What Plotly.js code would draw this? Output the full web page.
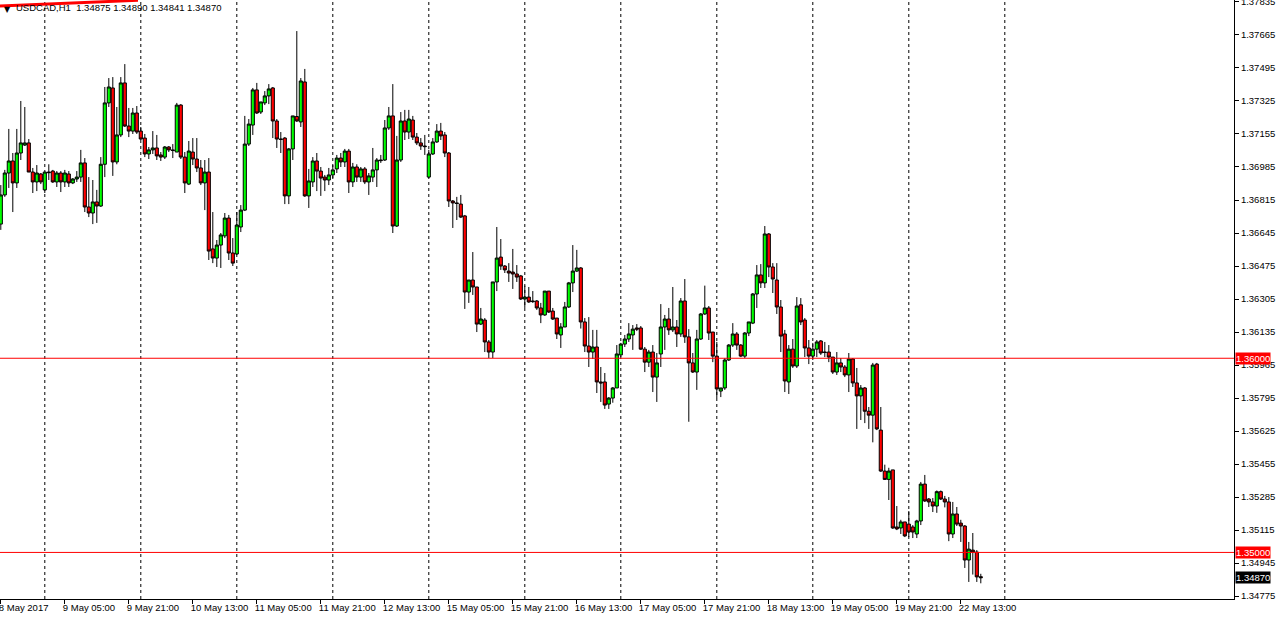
<!DOCTYPE html>
<html><head><meta charset="utf-8">
<script src="https://cdn.plot.ly/plotly-3.0.1.min.js"></script>
<style>html,body{margin:0;padding:0;background:#fff;overflow:hidden}#chart{width:1278px;height:620px}</style>
</head><body><div id="chart"></div>
<script>
const symbol = 'USDCAD,H1';
const firstHour = 13; // first bar: 8 May 2017 13:00, hourly bars

const open = [
1.36691,1.36841,1.36954,1.37016,1.36903,1.37057,1.37098,1.37109,1.36959,1.36908,
1.36949,1.36867,1.36959,1.36964,1.36908,1.36954,1.36908,1.36949,1.36903,1.36923,
1.36933,1.37006,1.36779,1.36748,1.36805,1.36784,1.36999,1.37315,1.37392,1.37011,
1.37150,1.37418,1.37196,1.37170,1.37263,1.37170,1.37134,1.37052,1.37073,1.37083,
1.37047,1.37036,1.37088,1.37073,1.37062,1.37304,1.37036,1.36897,1.37062,1.37026,
1.36980,1.36903,1.36959,1.36563,1.36516,1.36583,1.36630,1.36722,1.36542,1.36537,
1.36676,1.36763,1.37103,1.37201,1.37382,1.37268,1.37315,1.37351,1.37392,1.37222,
1.37129,1.37134,1.36836,1.37078,1.37245,1.37217,1.37423,1.36836,1.36908,1.37016,
1.36964,1.36933,1.36918,1.36944,1.36975,1.37031,1.37011,1.37067,1.36908,1.36985,
1.36933,1.36975,1.36908,1.36933,1.36970,1.37021,1.37021,1.37186,1.37248,1.36681,
1.37021,1.37222,1.37165,1.37227,1.37139,1.37109,1.37093,1.36933,1.37052,1.37114,
1.37170,1.37150,1.37057,1.36810,1.36800,1.36794,1.36733,1.36341,1.36403,1.36367,
1.36176,1.36197,1.36084,1.36032,1.36393,1.36521,1.36475,1.36449,1.36444,1.36434,
1.36424,1.36305,1.36315,1.36295,1.36295,1.36259,1.36223,1.36346,1.36243,1.36207,
1.36120,1.36161,1.36264,1.36388,1.36449,1.36465,1.36187,1.36063,1.36032,1.36058,
1.35878,1.35878,1.35764,1.35795,1.35847,1.36017,1.36073,1.36099,1.36120,1.36156,
1.36156,1.36047,1.35980,1.36032,1.35903,1.36022,1.36161,1.36202,1.36146,1.36161,
1.36125,1.36295,1.36110,1.35976,1.35929,1.36099,1.36228,1.36259,1.36135,1.36011,
1.35831,1.35847,1.35991,1.36068,1.36125,1.36068,1.36011,1.36130,1.36181,1.36331,
1.36429,1.36388,1.36640,1.36470,1.36403,1.36264,1.36125,1.35878,1.36047,1.35960,
1.36275,1.36197,1.36053,1.36011,1.36047,1.36089,1.36032,1.36032,1.36006,1.35929,
1.35976,1.35955,1.35914,1.35996,1.35873,1.35806,1.35847,1.35727,1.35707,1.35970,
1.35630,1.35419,1.35376,1.35425,1.35131,1.35126,1.35157,1.35146,1.35131,1.35095,
1.35162,1.35352,1.35275,1.35260,1.35239,1.35313,1.35275,1.35260,1.35095,1.35198,
1.35151,1.35136,1.34961,1.35012,1.35002,1.34875
];
const high = [
1.36892,1.36970,1.37181,1.37057,1.37181,1.37325,1.37294,1.37129,1.36980,1.36995,
1.36954,1.36959,1.36999,1.36970,1.36964,1.36964,1.36970,1.36964,1.36928,1.36964,
1.37073,1.37031,1.36933,1.36918,1.36867,1.37036,1.37397,1.37443,1.37448,1.37294,
1.37448,1.37515,1.37289,1.37289,1.37299,1.37191,1.37155,1.37088,1.37170,1.37150,
1.37062,1.37093,1.37093,1.37103,1.37315,1.37309,1.37062,1.37119,1.37134,1.37134,
1.37021,1.37021,1.37031,1.36753,1.36609,1.36645,1.36748,1.36738,1.36619,1.36753,
1.36789,1.37248,1.37232,1.37392,1.37418,1.37320,1.37376,1.37412,1.37397,1.37232,
1.37165,1.37139,1.37083,1.37248,1.37685,1.37443,1.37490,1.36975,1.37036,1.37057,
1.36985,1.36944,1.36980,1.36995,1.37047,1.37057,1.37078,1.37078,1.37006,1.36999,
1.36985,1.36985,1.36954,1.37083,1.37031,1.37047,1.37227,1.37294,1.37412,1.37145,
1.37268,1.37279,1.37279,1.37248,1.37160,1.37134,1.37150,1.37073,1.37134,1.37206,
1.37212,1.37165,1.37062,1.36815,1.36831,1.36841,1.36738,1.36403,1.36547,1.36367,
1.36259,1.36207,1.36094,1.36393,1.36676,1.36614,1.36480,1.36490,1.36563,1.36480,
1.36429,1.36374,1.36367,1.36346,1.36300,1.36285,1.36346,1.36346,1.36259,1.36207,
1.36181,1.36290,1.36393,1.36583,1.36558,1.36470,1.36207,1.36212,1.36146,1.36146,
1.35955,1.35924,1.35800,1.35852,1.36068,1.36079,1.36120,1.36181,1.36171,1.36176,
1.36166,1.36058,1.36043,1.36068,1.36027,1.36279,1.36223,1.36259,1.36367,1.36197,
1.36310,1.36408,1.36150,1.36027,1.36146,1.36233,1.36374,1.36269,1.36135,1.36084,
1.35847,1.36001,1.36073,1.36181,1.36135,1.36073,1.36135,1.36187,1.36336,1.36480,
1.36485,1.36681,1.36645,1.36490,1.36490,1.36300,1.36146,1.36068,1.36099,1.36315,
1.36310,1.36207,1.36094,1.36079,1.36094,1.36094,1.36084,1.36068,1.36006,1.36032,
1.36001,1.35965,1.36027,1.36001,1.35950,1.35862,1.35852,1.35749,1.35976,1.35976,
1.35749,1.35452,1.35436,1.35425,1.35239,1.35168,1.35157,1.35213,1.35141,1.35168,
1.35363,1.35399,1.35280,1.35280,1.35319,1.35319,1.35291,1.35285,1.35260,1.35234,
1.35168,1.35141,1.35054,1.35100,1.35012,1.34890
];
const low = [
1.36661,1.36831,1.36877,1.36753,1.36877,1.37021,1.37093,1.36959,1.36851,1.36861,
1.36897,1.36851,1.36918,1.36903,1.36882,1.36856,1.36882,1.36882,1.36897,1.36908,
1.36908,1.36753,1.36727,1.36691,1.36697,1.36779,1.36933,1.37294,1.36939,1.36999,
1.37139,1.37191,1.37139,1.37155,1.37155,1.37124,1.37036,1.37026,1.37052,1.37021,
1.37016,1.37026,1.37062,1.37031,1.37062,1.37026,1.36851,1.36892,1.36995,1.36959,
1.36892,1.36763,1.36506,1.36490,1.36470,1.36465,1.36619,1.36506,1.36475,1.36532,
1.36650,1.36758,1.37093,1.37150,1.37258,1.37258,1.37304,1.37309,1.37134,1.37083,
1.37057,1.36794,1.36794,1.37021,1.37217,1.37191,1.36831,1.36774,1.36882,1.36861,
1.36836,1.36861,1.36892,1.36928,1.36954,1.36985,1.36985,1.36851,1.36882,1.36908,
1.36908,1.36897,1.36841,1.36908,1.36882,1.37006,1.37016,1.37176,1.36645,1.36676,
1.37011,1.37124,1.37129,1.37124,1.37098,1.37073,1.37047,1.36928,1.37047,1.37109,
1.37124,1.37036,1.36779,1.36671,1.36712,1.36722,1.36254,1.36285,1.36326,1.36135,
1.36171,1.36032,1.36001,1.36001,1.36346,1.36455,1.36439,1.36393,1.36357,1.36393,
1.36300,1.36259,1.36285,1.36285,1.36249,1.36181,1.36218,1.36233,1.36197,1.36099,
1.36053,1.36161,1.36259,1.36341,1.36444,1.36153,1.36032,1.35955,1.35996,1.35821,
1.35775,1.35739,1.35739,1.35771,1.35847,1.36006,1.36058,1.36084,1.36043,1.36140,
1.36043,1.35929,1.35955,1.35826,1.35775,1.35955,1.36043,1.36120,1.36135,1.36058,
1.36110,1.36079,1.35673,1.35924,1.35837,1.36094,1.36223,1.36094,1.35980,1.35795,
1.35800,1.35837,1.35986,1.36058,1.36043,1.36006,1.36001,1.36114,1.36176,1.36259,
1.36362,1.36362,1.36418,1.36336,1.36228,1.36032,1.35826,1.35816,1.35950,1.35950,
1.36171,1.36006,1.35970,1.35991,1.36006,1.36017,1.36006,1.35980,1.35919,1.35914,
1.35929,1.35903,1.35826,1.35852,1.35636,1.35682,1.35666,1.35636,1.35567,1.35630,
1.35414,1.35373,1.35270,1.35121,1.35115,1.35095,1.35079,1.35079,1.35074,1.35074,
1.35141,1.35260,1.35234,1.35208,1.35204,1.35270,1.35232,1.35058,1.35074,1.35136,
1.35054,1.34920,1.34848,1.34886,1.34848,1.34841
];
const close = [
1.36841,1.36954,1.37016,1.36903,1.37057,1.37109,1.37109,1.36959,1.36908,1.36954,
1.36908,1.36959,1.36956,1.36908,1.36954,1.36908,1.36954,1.36903,1.36923,1.36933,
1.37006,1.36779,1.36748,1.36805,1.36784,1.36999,1.37315,1.37397,1.37011,1.37150,
1.37418,1.37196,1.37170,1.37263,1.37165,1.37129,1.37052,1.37073,1.37083,1.37042,
1.37036,1.37088,1.37073,1.37070,1.37304,1.37036,1.36903,1.37067,1.37026,1.36980,
1.36903,1.36959,1.36552,1.36516,1.36583,1.36635,1.36722,1.36542,1.36490,1.36686,
1.36763,1.37103,1.37206,1.37382,1.37263,1.37320,1.37351,1.37387,1.37222,1.37129,
1.37127,1.36836,1.37078,1.37248,1.37222,1.37428,1.36836,1.36913,1.37016,1.36964,
1.36928,1.36918,1.36944,1.36970,1.37031,1.37011,1.37067,1.36908,1.36985,1.36933,
1.36975,1.36908,1.36939,1.36970,1.37021,1.37018,1.37186,1.37248,1.36681,1.37021,
1.37222,1.37165,1.37232,1.37139,1.37109,1.37093,1.37090,1.37052,1.37114,1.37170,
1.37145,1.37057,1.36810,1.36800,1.36797,1.36727,1.36341,1.36403,1.36367,1.36176,
1.36202,1.36084,1.36032,1.36393,1.36516,1.36475,1.36455,1.36439,1.36434,1.36418,
1.36305,1.36315,1.36290,1.36292,1.36259,1.36223,1.36346,1.36238,1.36202,1.36125,
1.36161,1.36264,1.36388,1.36449,1.36465,1.36187,1.36063,1.36032,1.36058,1.35878,
1.35873,1.35759,1.35795,1.35847,1.36022,1.36073,1.36099,1.36125,1.36150,1.36150,
1.36047,1.35980,1.36032,1.35903,1.35976,1.36161,1.36202,1.36146,1.36161,1.36125,
1.36295,1.36110,1.35976,1.35929,1.36099,1.36228,1.36259,1.36130,1.36011,1.35842,
1.35847,1.35991,1.36068,1.36125,1.36068,1.36011,1.36130,1.36187,1.36331,1.36429,
1.36388,1.36640,1.36470,1.36408,1.36264,1.36114,1.35883,1.36047,1.35960,1.36269,
1.36187,1.36053,1.36011,1.36047,1.36084,1.36027,1.36030,1.36006,1.35929,1.35976,
1.35955,1.35914,1.35996,1.35873,1.35806,1.35847,1.35727,1.35707,1.35965,1.35636,
1.35419,1.35376,1.35419,1.35126,1.35121,1.35157,1.35085,1.35105,1.35105,1.35162,
1.35352,1.35265,1.35260,1.35239,1.35313,1.35275,1.35260,1.35095,1.35198,1.35146,
1.35136,1.34961,1.35017,1.35002,1.34874,1.34870
];

const tickLabels = ['8 May 2017','9 May 05:00','9 May 21:00','10 May 13:00','11 May 05:00',
  '11 May 21:00','12 May 13:00','15 May 05:00','15 May 21:00','16 May 13:00','17 May 05:00',
  '17 May 21:00','18 May 13:00','19 May 05:00','19 May 21:00','22 May 13:00'];
const priceTicks = [1.37835,1.37665,1.37495,1.37325,1.37155,1.36985,1.36815,1.36645,1.36475,
  1.36305,1.36135,1.35965,1.35795,1.35625,1.35455,1.35285,1.35115,1.34945,1.34775];
const levels = [1.36000, 1.35000];

// ---------- layout constants ----------
const W = 1278, H = 620, ML = 0, MR = 44, MT = 0, MB = 21;
const PW = W - ML - MR, PH = H - MT - MB;
const BAR_PX = 4;
const xMin = -0.2, xMax = xMin + PW / BAR_PX;
const yTop = 1.37845, yBot = 1.37845 - 0.0000515 * PH;
const FONT = 'Liberation Sans, Arial, sans-serif';

const n = open.length;
const xs = open.map((_, i) => i);
const last = n - 1;

const trace = {
  type: 'candlestick', x: xs, open: open, high: high, low: low, close: close,
  increasing: {line: {color: '#000000', width: 1}, fillcolor: '#00ff00'},
  decreasing: {line: {color: '#000000', width: 1}, fillcolor: '#ff0000'},
  whiskerwidth: 0, hoverinfo: 'skip', showlegend: false
};

const shapes = [];
// daily period separators (at each day's 00:00 bar, up to the next day after the last bar)
const nextDayStart = last + (24 - (firstHour + last) % 24);
for (let i = 24 - firstHour; i <= nextDayStart; i += 24) {
  shapes.push({type: 'line', xref: 'x', yref: 'paper', x0: i, x1: i, y0: 0, y1: 1,
    line: {color: '#000000', width: 1, dash: '3px,3px'}, layer: 'below'});
}
levels.forEach(v => shapes.push({type: 'line', xref: 'paper', yref: 'y', x0: 0, x1: 1, y0: v, y1: v,
  line: {color: '#ff0000', width: 1}, layer: 'above'}));
// red indicator fragment at top-left corner
shapes.push({type: 'line', xref: 'paper', yref: 'paper', x0: 0, y0: 1 - 6 / PH, x1: 138 / PW, y1: 1 - 0.3 / PH,
  line: {color: '#ff0000', width: 3}, layer: 'above'});

const fmt = v => v.toFixed(5);
const annotations = [];
levels.forEach(v => annotations.push({xref: 'paper', yref: 'y', x: 1, y: v, xanchor: 'left', yanchor: 'middle',
  xshift: 1, text: fmt(v), showarrow: false, bgcolor: '#ff0000', borderpad: 0,
  font: {family: FONT, size: 9.5, color: '#ffffff'}}));
annotations.push({xref: 'paper', yref: 'y', x: 1, y: close[last], xanchor: 'left', yanchor: 'middle',
  xshift: 1, text: fmt(close[last]), showarrow: false, bgcolor: '#000000', borderpad: 0,
  font: {family: FONT, size: 9.5, color: '#ffffff'}});
annotations.push({xref: 'paper', yref: 'paper', x: 2 / PW, y: 1 - 9 / PH, xanchor: 'left', yanchor: 'middle',
  text: '▼', showarrow: false, font: {family: 'DejaVu Sans, sans-serif', size: 8, color: '#000000'}});
annotations.push({xref: 'paper', yref: 'paper', x: 14 / PW, y: 1 - 8 / PH, xanchor: 'left', yanchor: 'middle',
  text: symbol + '\u00a0 ' + [open[last], high[last], low[last], close[last]].map(fmt).join(' '),
  showarrow: false, font: {family: FONT, size: 9.5, color: '#000000'}});

const layout = {
  width: W, height: H,
  margin: {l: ML, r: MR, t: MT, b: MB, pad: 0},
  paper_bgcolor: '#ffffff', plot_bgcolor: '#ffffff',
  showlegend: false, hovermode: false,
  boxgap: 0.22, boxgroupgap: 0,
  font: {family: FONT, size: 9.5, color: '#000000'},
  xaxis: {
    type: 'linear', range: [xMin, xMax], fixedrange: true,
    rangeslider: {visible: false},
    showgrid: false, zeroline: false,
    showline: true, linecolor: '#000000', linewidth: 1,
    ticks: 'outside', ticklen: 4, tickcolor: '#000000', tickwidth: 1,
    tickmode: 'array', tickvals: tickLabels.map((_, k) => k * 16), ticktext: tickLabels,
    ticklabelposition: 'outside right', tickangle: 0, ticklabeloverflow: 'allow',
    ticklabelshift: -3,
    tickfont: {family: FONT, size: 9.5, color: '#000000'}
  },
  yaxis: {
    range: [yBot, yTop], side: 'right', fixedrange: true,
    showgrid: false, zeroline: false,
    showline: true, linecolor: '#000000', linewidth: 1,
    ticks: 'outside', ticklen: 4, tickcolor: '#000000', tickwidth: 1,
    tickmode: 'array', tickvals: priceTicks, ticktext: priceTicks.map(fmt),
    ticklabeloverflow: 'allow',
    tickfont: {family: FONT, size: 9.5, color: '#000000'}
  },
  shapes: shapes, annotations: annotations
};

Plotly.newPlot('chart', [trace], layout, {staticPlot: true, displayModeBar: false});
</script>
</body></html>
